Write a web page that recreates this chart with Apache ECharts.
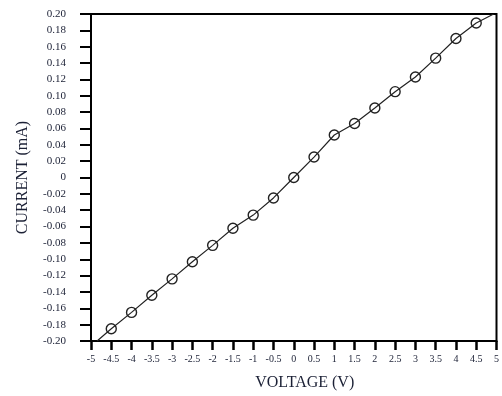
<!DOCTYPE html>
<html>
<head>
<meta charset="utf-8">
<script src="https://cdn.jsdelivr.net/npm/echarts@6/dist/echarts.min.js"></script>
<style>
  html, body { margin: 0; padding: 0; background: #fff; }
  #chart { width: 502px; height: 396px; }
</style>
</head>
<body>
<div id="chart"></div>
<script>
// measured points
const voltage = [-4.5, -4, -3.5, -3, -2.5, -2, -1.5, -1, -0.5, 0, 0.5, 1, 1.5, 2, 2.5, 3, 3.5, 4, 4.5];
const current = [-0.185, -0.165, -0.144, -0.124, -0.103, -0.083, -0.062, -0.046, -0.025, 0.0,
                 0.025, 0.052, 0.066, 0.085, 0.105, 0.123, 0.146, 0.170, 0.189];
// line ends where it leaves the frame
const lineStart = [-4.85, -0.2];
const lineEnd = [4.93, 0.2];

const ink = '#1b2035';
const serif = '"Liberation Serif", "DejaVu Serif", serif';

const pts = voltage.map((v, i) => [v, current[i]]);
const lineData = [{ value: lineStart, symbolSize: 0 }]
  .concat(pts.map(p => ({ value: p })))
  .concat([{ value: lineEnd, symbolSize: 0 }]);

const chart = echarts.init(document.getElementById('chart'), null, { renderer: 'canvas' });

chart.setOption({
  animation: false,
  backgroundColor: '#fff',
  grid: {
    left: 91, right: 2, top: 14, bottom: 52,
    show: true, borderColor: '#000', borderWidth: 2
  },
  xAxis: {
    type: 'value',
    min: -5, max: 5, interval: 0.5,
    name: 'VOLTAGE (V)',
    nameLocation: 'middle',
    nameGap: 34,
    nameTextStyle: { fontFamily: serif, fontSize: 16, color: ink, padding: [0, 0, 0, 22] },
    axisLine: { onZero: false, lineStyle: { color: '#000', width: 2 } },
    axisTick: { inside: false, length: 9, lineStyle: { color: '#000', width: 2.5 } },
    axisLabel: { fontFamily: serif, fontSize: 10, color: ink, margin: 13 },
    splitLine: { show: false }
  },
  yAxis: {
    type: 'value',
    min: -0.2, max: 0.2, interval: 0.02,
    name: 'CURRENT (mA)',
    nameLocation: 'middle',
    nameGap: 60,
    nameTextStyle: { fontFamily: serif, fontSize: 16, color: ink },
    axisLine: { onZero: false, lineStyle: { color: '#000', width: 2 } },
    axisTick: { inside: false, length: 11, lineStyle: { color: '#000', width: 2 } },
    axisLabel: {
      fontFamily: serif, fontSize: 11, color: ink, margin: 25,
      formatter: v => (Math.abs(v) < 1e-9 ? '0' : v.toFixed(2))
    },
    splitLine: { show: false }
  },
  series: [{
    type: 'line',
    data: lineData,
    symbol: 'circle',
    symbolSize: 10,
    showAllSymbol: true,
    lineStyle: { color: '#222', width: 1.2 },
    itemStyle: { color: 'rgba(0,0,0,0)', borderColor: '#222', borderWidth: 1.4 },
    clip: true
  }]
});
</script>
</body>
</html>
